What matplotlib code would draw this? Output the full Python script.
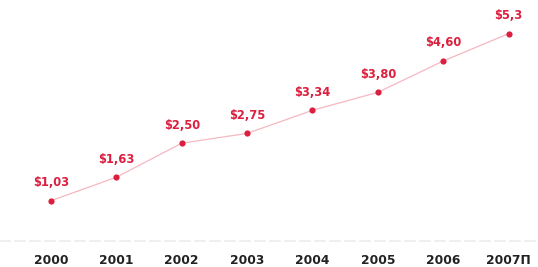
import matplotlib.pyplot as plt

years = ["2000", "2001", "2002", "2003", "2004", "2005", "2006", "2007П"]
values = [1.03, 1.63, 2.50, 2.75, 3.34, 3.80, 4.60, 5.3]
labels = ["$1,03", "$1,63", "$2,50", "$2,75", "$3,34", "$3,80", "$4,60", "$5,3"]

red = "#dc1f3f"

fig = plt.figure(figsize=(5.38, 2.67), dpi=100)
ax = fig.add_axes([0, 26 / 267, 1, 241 / 267])

x = range(len(years))
ax.plot(x, values, color="#f5b8c0", lw=0.9, zorder=1)
ax.scatter(x, values, s=20, marker="o", color=red, zorder=2, linewidths=0)
for xi, v, lab in zip(x, values, labels):
    ax.annotate(lab, (xi, v), xytext=(0, 13), textcoords="offset points",
                ha="center", va="center", color=red, fontsize=8.3,
                fontweight="bold")

ax.set_xlim(-0.78, 7.45)
ax.set_ylim(0, 6.16)
ax.set_xticks(list(x), labels=years, fontsize=8.8, fontweight="bold", color="#222222")
ax.tick_params(axis="x", length=0, pad=9)
ax.set_yticks([])
for side in ["top", "right", "left"]:
    ax.spines[side].set_visible(False)
ax.spines["bottom"].set_color("#ececec")
ax.spines["bottom"].set_linestyle((0, (6, 3)))
ax.spines["bottom"].set_linewidth(1.2)

fig.savefig("out.png", dpi=100, facecolor="white")
